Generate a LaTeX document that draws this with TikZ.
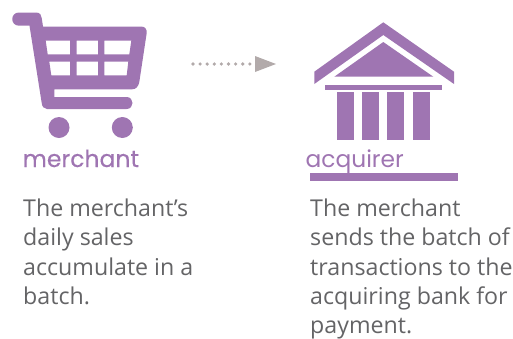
\documentclass[tikz,border=0pt]{standalone}
\usepackage{fontspec}
\setmainfont{Open Sans}
\newfontfamily\labelfont{Poppins}
\newfontfamily\labelfontheavy[FakeBold=0.35]{Poppins}
\definecolor{plum}{RGB}{159,117,178}
\definecolor{arrowgrey}{RGB}{178,170,170}
\definecolor{bodygrey}{RGB}{100,100,102}
\tikzset{
  shapefill/.style={fill=plum,draw=none},
  lab/.style={anchor=base west,inner sep=0pt,text=plum},
  body/.style={anchor=north west,inner sep=0pt,text=bodygrey,align=left,font=\fontsize{23.2}{29.3}\selectfont},
}
\begin{document}
\begin{tikzpicture}[x=1pt,y=-1pt]
\useasboundingbox (0,0) rectangle (513,338);
% cart
\fill[shapefill,even odd rule]
  (19,12.5) -- (36,12.5) .. controls (40,12.5) and (41.5,15) .. (41.7,18) -- (43,26.5)
  -- (141,26.5) .. controls (145,26.5) and (147,29) .. (146.7,33)
  -- (139.3,82) .. controls (138.5,86.5) and (136,89.3) .. (132,89.3)
  -- (54.3,89.3) -- (54.3,97) -- (126.5,97) .. controls (134.5,97) and (134.5,109) .. (126.5,109)
  -- (47,109) .. controls (44,109) and (42,106.5) .. (41.7,103)
  -- (29.5,25.7) -- (19,25.7) .. controls (10,25.7) and (10,12.5) .. (19,12.5) -- cycle
  (45.7,40.7) -- (70,40.7) -- (70,54.3) -- (47.7,54.3) -- cycle
  (76.7,40.7) -- (98,40.7) -- (98,54.3) -- (76.7,54.3) -- cycle
  (104.3,40.7) -- (131.3,40.7) -- (129.3,54.3) -- (104.3,54.3) -- cycle
  (49.3,61.7) -- (70,61.7) -- (70,75.3) -- (51.3,75.3) -- cycle
  (76.7,61.7) -- (98,61.7) -- (98,75.3) -- (76.7,75.3) -- cycle
  (104.3,61.7) -- (128.3,61.7) -- (126.7,75.3) -- (104.3,75.3) -- cycle;
\fill[shapefill] (59,127.5) circle[radius=10.5];
\fill[shapefill] (122.3,127.5) circle[radius=10.5];
\node[lab,font=\labelfontheavy\fontsize{23.5}{23.5}\selectfont] (merchantlabel) at (22.5,167) {merchant};
% arrow
\coordinate (arrowstart) at (193,64);
\coordinate (arrowend) at (255,64);
\draw[arrowgrey,line width=3.6pt,line cap=round,dash pattern=on 0pt off 7.1pt] (arrowstart) -- (arrowend);
\fill[arrowgrey] (255,56) -- (276,64) -- (255,72) -- cycle;
% bank
\fill[shapefill] (383.3,22.3) -- (454,71.7) -- (454,84) -- (383.3,35) -- (314.3,84) -- (314.3,71.7) -- cycle;
\fill[shapefill] (383.3,42) -- (433.3,76.7) -- (334.3,76.7) -- cycle;
\fill[shapefill] (325,85) rectangle (442,90);
\fill[shapefill] (337,92) rectangle (354,139.7);
\fill[shapefill] (362,92) rectangle (379,139.7);
\fill[shapefill] (387,92) rectangle (404,139.7);
\fill[shapefill] (413,92) rectangle (430,139.7);
\fill[shapefill] (310,173) rectangle (457.7,181);
\node[lab,font=\labelfont\fontsize{23.3}{23.3}\selectfont] (acquirerlabel) at (305.5,167) {acquirer};
% text
\node[body] (lefttext) at (23,198.6) {The merchant’s\\daily sales\\accumulate in a\\batch.};
\node[body] (righttext) at (310,198.6) {The merchant\\sends the batch of\\transactions to the\\acquiring bank for\\payment.};
\end{tikzpicture}
\end{document}
